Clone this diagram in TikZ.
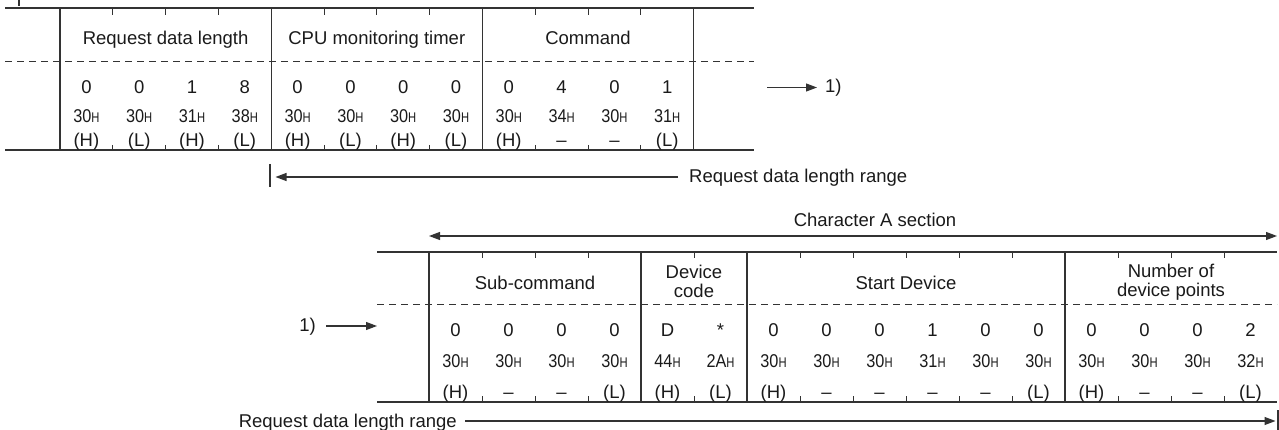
\documentclass[tikz,border=0pt]{standalone}
\usepackage{fontspec}
\usepackage{graphicx}
\setmainfont{Liberation Sans}
\usetikzlibrary{arrows.meta}
\definecolor{lc}{HTML}{333333}
\definecolor{tc}{HTML}{1A1A1A}
\newcommand{\hexv}[1]{\scalebox{0.88}[1]{#1}\scalebox{0.8}[1]{\fontsize{14}{14}\selectfont H}}
\begin{document}
\begin{tikzpicture}[x=1pt,y=-1pt,
  line/.style={draw=lc,line width=1.1pt},
  dline/.style={draw=lc,line width=1pt,dash pattern=on 7pt off 5pt},
  tickline/.style={draw=lc,line width=0.9pt},
  txt/.style={inner sep=0pt,text=tc,font=\fontsize{18.5}{19}\selectfont},
  arr/.style={draw=lc,line width=1.1pt,-{Triangle[length=11pt,width=8pt]}},
  darr/.style={draw=lc,line width=1.1pt,{Triangle[length=11pt,width=8pt]}-{Triangle[length=11pt,width=8pt]}}
  ]
\useasboundingbox (0,0) rectangle (1279,430);

% fragment at top-left
\draw[line] (19,0) -- (19,6);

% ---------------- top table ----------------
\def\tw{52.8}
\draw[line] (5,8) -- (754,8);
\draw[line] (5,150) -- (754,150);
\draw[dline] (5,62) -- (754,62);
\foreach \i in {0,4,8,12} \draw[line] (60+\i*\tw,8) -- (60+\i*\tw,150);
\foreach \i in {1,2,3,5,6,7,9,10,11} {
  \draw[tickline] (60+\i*\tw,8) -- (60+\i*\tw,15);
  \draw[tickline] (60+\i*\tw,145) -- (60+\i*\tw,150);
}
\node[txt,anchor=base] (th1) at (60+2*\tw,44.5) {Request data length};
\node[txt,anchor=base] (th2) at (60+6*\tw,44.5) {CPU monitoring timer};
\node[txt,anchor=base] (th3) at (60+10*\tw,44.5) {Command};
\foreach \d [count=\i from 0] in {0,0,1,8,0,0,0,0,0,4,0,1}
  \node[txt,anchor=base] (td\i) at (60+\i*\tw+\tw/2,94) {\d};
\foreach \d [count=\i from 0] in {30,30,31,38,30,30,30,30,30,34,30,31}
  \node[txt,anchor=base] (tx\i) at (60+\i*\tw+\tw/2,123) {\hexv{\d}};
\foreach \d [count=\i from 0] in {{(H)},{(L)},{(H)},{(L)},{(H)},{(L)},{(H)},{(L)},{(H)},{–},{–},{(L)}}
  \node[txt,anchor=base] (tl\i) at (60+\i*\tw+\tw/2,146.5) {\d};

% arrow to 1)
\coordinate (oneS) at (767,87.5);
\node[txt,anchor=base west] (oneT) at (825,93) {1)};
\draw[arr] (oneS) -- (oneS -| 817,0);

% request data length range (top)
\coordinate (rtBarTop) at (270,164);
\coordinate (rtBarBot) at (270,187);
\coordinate (rtEnd) at (270,177);
\coordinate (rtStart) at (678,177);
\draw[line] (rtBarTop) -- (rtBarBot);
\node[txt,anchor=base west] (rtT) at (689,183) {Request data length range};
\draw[arr,shorten >=5.5pt] (rtStart) -- (rtEnd);

% Character A section
\node[txt,anchor=base] (caT) at (875,227) {Character A section};
\coordinate (caL) at (429,236);
\coordinate (caR) at (1277,236);
\draw[darr] (caL) -- (caR);

% ---------------- bottom table ----------------
\def\bw{53}
\draw[line] (377,252) -- (1277,252);
\draw[line] (377,402) -- (1277,402);
\draw[dline] (377,304) -- (1277,304);
\foreach \i in {0,4,6,12} \draw[line] (429+\i*\bw,252) -- (429+\i*\bw,402);
\foreach \i in {1,2,3,5,7,8,9,10,11,13,14,15} {
  \draw[tickline] (429+\i*\bw,252) -- (429+\i*\bw,258);
  \draw[tickline] (429+\i*\bw,396) -- (429+\i*\bw,402);
}
\node[txt,anchor=base] (bh1) at (429+2*\bw,289) {Sub-command};
\node[txt,anchor=base,align=center] (bh2) at (429+5*\bw,298) {Device\\code};
\node[txt,anchor=base] (bh3) at (429+9*\bw,290) {Start Device};
\node[txt,anchor=base,align=center] (bh4) at (429+14*\bw,297) {Number of\\device points};
\foreach \d [count=\i from 0] in {0,0,0,0,D,*,0,0,0,1,0,0,0,0,0,2}
  \node[txt,anchor=base] (bd\i) at (429+\i*\bw+\bw/2,336) {\d};
\foreach \d [count=\i from 0] in {30,30,30,30,44,2A,30,30,30,31,30,30,30,30,30,32}
  \node[txt,anchor=base] (bx\i) at (429+\i*\bw+\bw/2,367.5) {\hexv{\d}};
\foreach \d [count=\i from 0] in {{(H)},{–},{–},{(L)},{(H)},{(L)},{(H)},{–},{–},{–},{–},{(L)},{(H)},{–},{–},{(L)}}
  \node[txt,anchor=base] (bl\i) at (429+\i*\bw+\bw/2,398) {\d};

% 1) arrow into bottom table
\node[txt,anchor=base east] (oneB) at (316,331) {1)};
\coordinate (oneBS) at (326,326);
\coordinate (oneBE) at (377,326);
\draw[arr] (oneBS) -- (oneBE);

% request data length range (bottom)
\node[txt,anchor=base east] (rbT) at (457,427) {Request data length range};
\coordinate (rbStart) at (465,421);
\coordinate (rbEnd) at (1278,421);
\coordinate (rbBarTop) at (1278,410);
\coordinate (rbBarBot) at (1278,430);
\draw[arr,shorten >=2.5pt] (rbStart) -- (rbEnd);
\draw[line] (rbBarTop) -- (rbBarBot);
\end{tikzpicture}
\end{document}
